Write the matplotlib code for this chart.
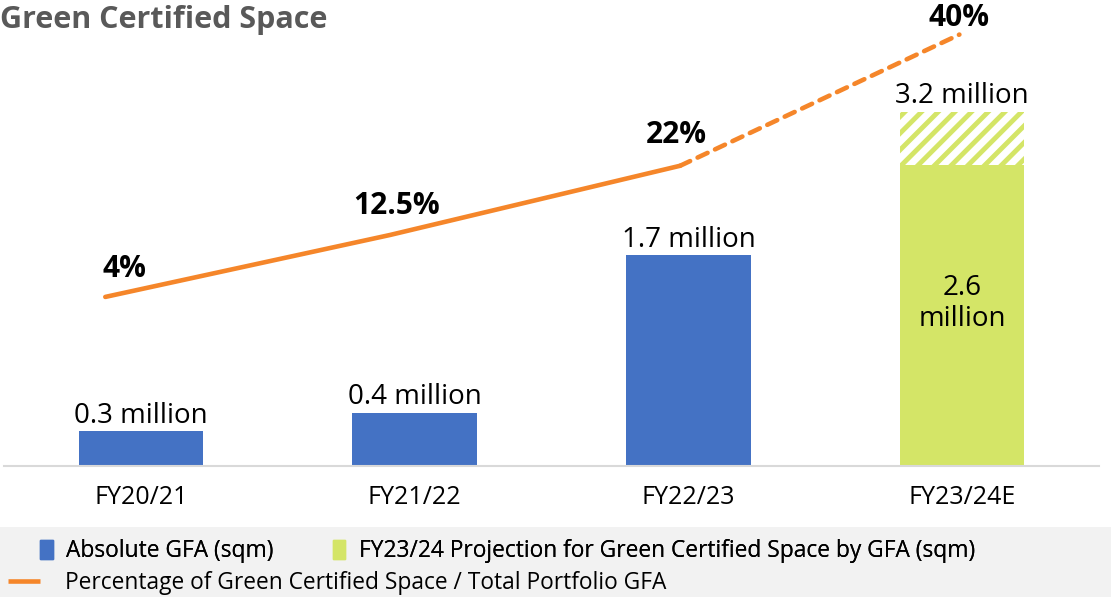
#!/usr/bin/env python3
"""Green Certified Space: GFA bars with share-of-portfolio line."""

import matplotlib

matplotlib.use("Agg")
import matplotlib.pyplot as plt
from matplotlib.lines import Line2D
from matplotlib.patches import Patch, Rectangle

plt.rcParams.update(
    {
        "font.family": ["Open Sans", "DejaVu Sans"],
        "hatch.linewidth": 3.5,
    }
)

# Data
categories = ["FY20/21", "FY21/22", "FY22/23", "FY23/24E"]
gfa_actual = [0.28, 0.43, 1.70, 0.0]          # bar heights as drawn (million sqm)
gfa_projected_base = [0.0, 0.0, 0.0, 2.43]
gfa_projected_extra = [0.0, 0.0, 0.0, 0.43]
bar_labels = ["0.3 million", "0.4 million", "1.7 million", "3.2 million"]
inner_label = "2.6\nmillion"
pct_values = [4, 12.5, 22, 40]
pct_labels = ["4%", "12.5%", "22%", "40%"]

BLUE = "#4472C4"
GREEN = "#D4E567"
ORANGE = "#F5862A"
GREY_TXT = "#595959"


def create_plot():
    fig = plt.figure(figsize=(11.11, 5.97), dpi=100)

    # grey legend band at the bottom
    fig.patches.append(
        Rectangle((0, 0), 1, 70 / 597, transform=fig.transFigure,
                  facecolor="#F2F2F2", edgecolor="none", zorder=0)
    )

    ax = fig.add_axes([4 / 1111, 131 / 597, 1095 / 1111, 446 / 597])
    x = list(range(len(categories)))
    w = 0.455

    ax.bar(x, gfa_actual, width=w, color=BLUE, zorder=2)
    ax.bar(x, gfa_projected_base, width=w, color=GREEN, zorder=2)
    ax.bar(x, gfa_projected_extra, width=w, bottom=gfa_projected_base,
           facecolor="white", edgecolor=GREEN, hatch="//", linewidth=0, zorder=2)

    ax.set_xlim(-0.5, 3.5)
    ax.set_ylim(0, 3.6)
    for s in ["top", "right", "left"]:
        ax.spines[s].set_visible(False)
    ax.spines["bottom"].set_color("#D9D9D9")
    ax.spines["bottom"].set_linewidth(1.5)
    ax.set_yticks([])
    ax.set_xticks(x)
    ax.set_xticklabels(categories, fontsize=18)
    ax.tick_params(axis="x", length=0, pad=14)

    # labels above bars
    for i, lab in enumerate(bar_labels):
        top = gfa_actual[i] + gfa_projected_base[i] + gfa_projected_extra[i]
        ax.annotate(lab, (i, top), xytext=(0, 1), textcoords="offset points",
                    ha="center", va="bottom", fontsize=20)
    ax.text(3, gfa_projected_base[3] / 2 + 0.1, inner_label, ha="center",
            va="center", fontsize=20, linespacing=1.15)

    # percentage line on secondary axis
    ax2 = ax.twinx()
    ax2.set_ylim(-19.2, 42.0)
    ax2.axis("off")
    line_x = [-0.13, 0.91, 1.97, 2.99]
    ax2.plot(line_x[:3], pct_values[:3], color=ORANGE, lw=3.3,
             solid_capstyle="round", solid_joinstyle="round")
    ax2.plot(line_x[2:], pct_values[2:], color=ORANGE, lw=3.3,
             linestyle=(0, (2.4, 1.8)), dash_capstyle="round")
    label_off = [(14, 9), (5, 10), (-3, 11), (0, 1)]
    for xi, yi, lab, off in zip(line_x, pct_values, pct_labels, label_off):
        ax2.annotate(lab, (xi, yi), xytext=off, textcoords="offset points",
                     ha="center", va="bottom", fontsize=21.5, fontweight="bold")

    fig.text(0.0, 1 - 20 / 597, "Green Certified Space", fontsize=22,
             fontweight="bold", color=GREY_TXT, va="center", ha="left")

    # legends
    bar_handles = [Patch(color=BLUE), Patch(color=GREEN)]
    leg1 = fig.legend(bar_handles,
                      ["Absolute GFA (sqm)",
                       "FY23/24 Projection for Green Certified Space by GFA (sqm)"],
                      loc="center left", bbox_to_anchor=(40 / 1111, 1 - 551 / 597),
                      ncol=2, frameon=False, fontsize=16.4, handlelength=0.55,
                      handleheight=0.9, handletextpad=0.6, columnspacing=2.6,
                      borderaxespad=0, borderpad=0)
    fig.add_artist(leg1)
    fig.legend([Line2D([], [], color=ORANGE, lw=3.3, solid_capstyle="butt")],
               ["Percentage of Green Certified Space / Total Portfolio GFA"],
               loc="center left", bbox_to_anchor=(8 / 1111, 1 - 583 / 597),
               frameon=False, fontsize=16.4, handlelength=1.4,
               handletextpad=1.1, borderaxespad=0, borderpad=0)
    return fig


def main():
    fig = create_plot()
    fig.savefig("out.png", dpi=100, facecolor="white")
    plt.close(fig)


if __name__ == "__main__":
    main()
